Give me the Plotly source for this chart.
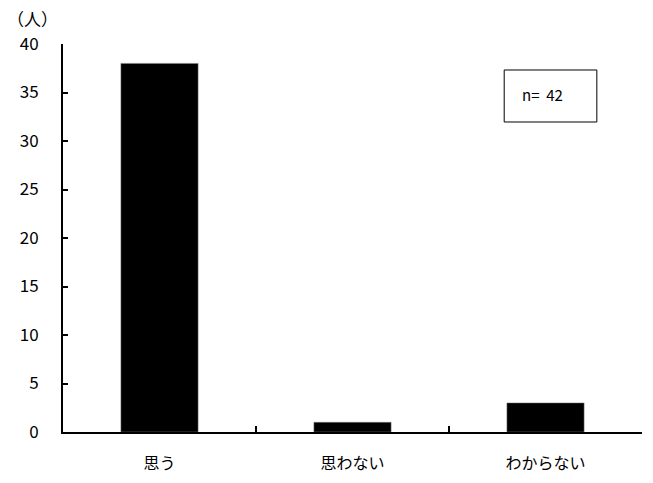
import plotly.graph_objects as go

categories = ["思う", "思わない", "わからない"]
values = [38, 1, 3]
y_ticks = [0, 5, 10, 15, 20, 25, 30, 35, 40]
unit_label = "（人）"
n_label = "n=\u00a0 42"

FONT = "Noto Sans CJK JP"

fig = go.Figure(
    go.Bar(
        x=categories,
        y=values,
        marker=dict(color="black", line=dict(color="#808080", width=0.5)),
        width=0.4,
    )
)

fig.update_layout(
    width=653,
    height=483,
    margin=dict(l=63, r=11, t=44, b=51, autoexpand=False),
    paper_bgcolor="white",
    plot_bgcolor="white",
    showlegend=False,
    font=dict(family=FONT, size=15, color="black"),
    bargap=0.6,
)

fig.update_xaxes(
    type="category",
    automargin=False,
    showline=True,
    linecolor="black",
    linewidth=2,
    ticks="inside",
    tickson="boundaries",
    ticklen=6,
    tickwidth=2,
    tickcolor="black",
    showgrid=False,
    ticklabelstandoff=16,
    tickfont=dict(family=FONT, size=16),
)

fig.update_yaxes(
    range=[0, 40],
    automargin=False,
    tickvals=y_ticks,
    showline=True,
    linecolor="black",
    linewidth=2,
    ticks="inside",
    ticklen=5,
    tickwidth=2,
    tickcolor="black",
    showgrid=False,
    zeroline=False,
    ticklabelstandoff=19,
    tickfont=dict(family=FONT, size=17),
)

fig.add_annotation(
    text=unit_label,
    xref="paper", yref="paper",
    x=-0.052, y=1.067,
    xanchor="center", yanchor="middle",
    showarrow=False,
    font=dict(family=FONT, size=17),
)

fig.add_shape(
    type="rect",
    xref="paper", yref="paper",
    x0=0.762, x1=0.922, y0=0.799, y1=0.933,
    line=dict(color="black", width=1),
    fillcolor="white",
)

fig.add_annotation(
    text=n_label,
    xref="paper", yref="paper",
    x=0.829, y=0.869,
    xanchor="center", yanchor="middle",
    showarrow=False,
    font=dict(family=FONT, size=15),
)

fig.write_html(
    "out.html",
    config={"displayModeBar": False},
    post_script="document.body.style.margin='0';",
)
